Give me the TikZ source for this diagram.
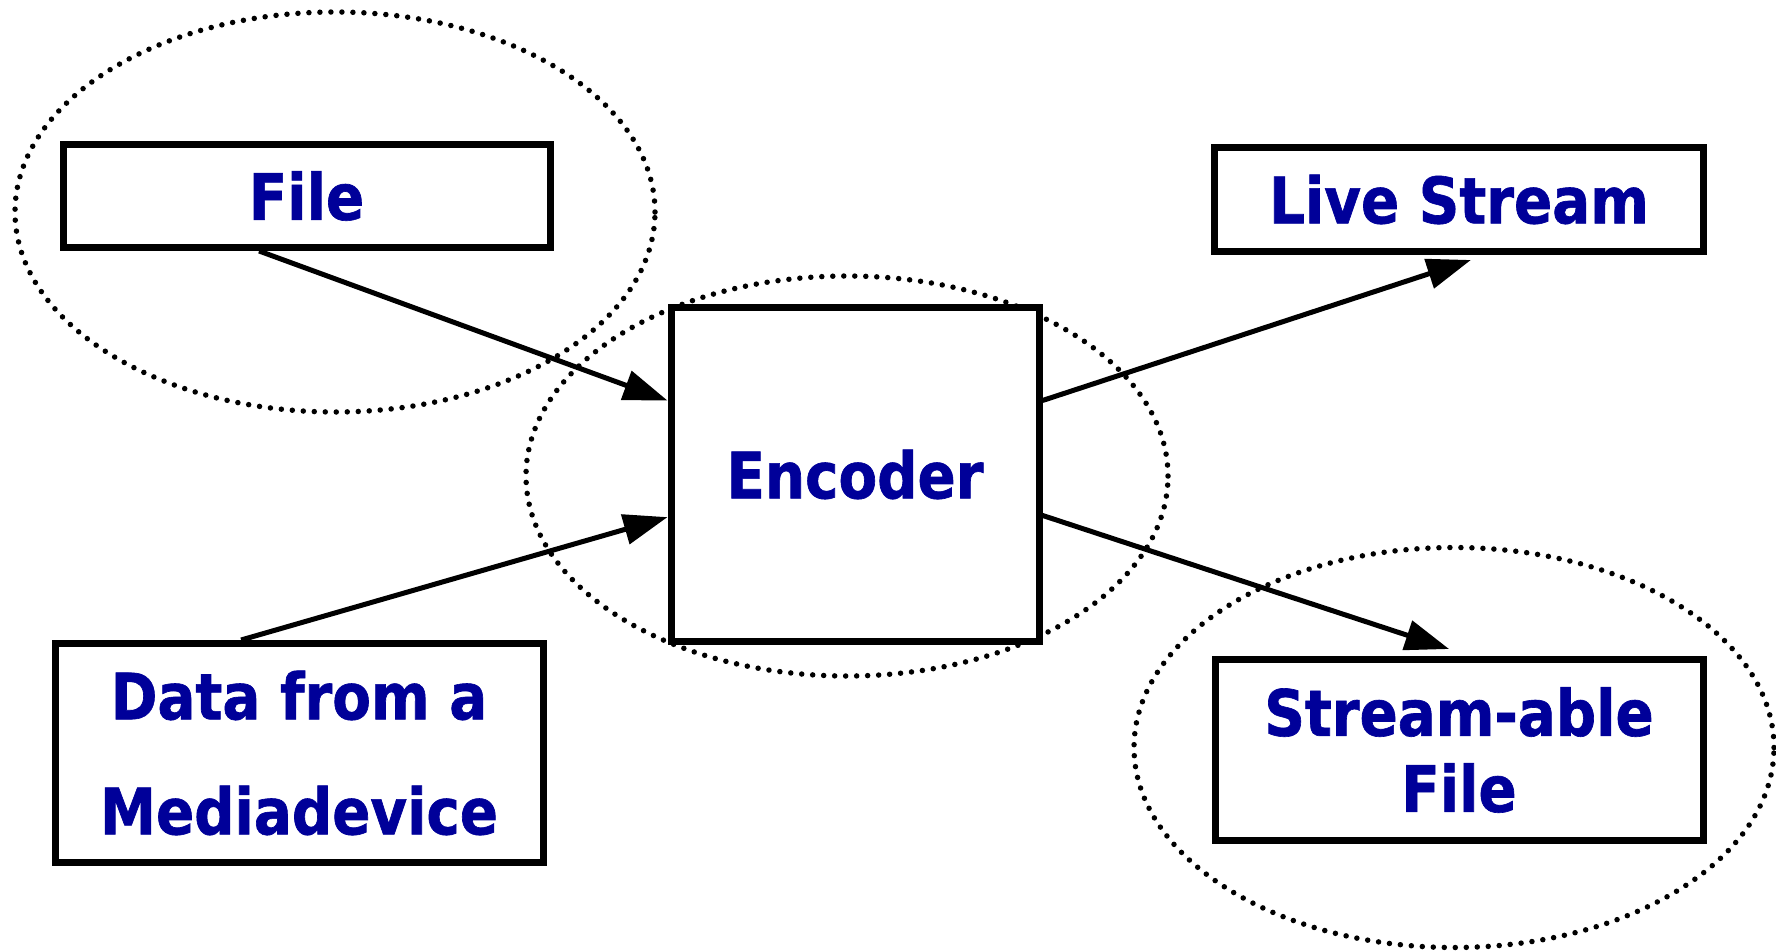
\documentclass[tikz,border=0pt]{standalone}
\usepackage{fontspec}
\newfontfamily\lblfont{DejaVu Sans}[FakeStretch=0.88,FakeBold=1]
\usetikzlibrary{arrows.meta,calc}
\definecolor{lblblue}{RGB}{0,0,153}
\begin{document}
\begin{tikzpicture}[x=1pt,y=-1pt,
  box/.style={draw=black, line width=7pt, fill=white, inner sep=0pt, align=center,
    text=lblblue, font=\lblfont\bfseries\fontsize{64}{76}\selectfont},
  halo/.style={draw=black, line width=5.5pt, line cap=round, dash pattern=on 0pt off 11pt},
  arr/.style={draw=black, line width=5pt, -{Triangle[length=44pt,width=30pt]}}]
\useasboundingbox (0,0) rectangle (1776,950);
% dotted groupings
\draw[halo] (335,212) ellipse [x radius=320pt, y radius=200pt];
\draw[halo] (847,476) ellipse [x radius=321pt, y radius=200pt];
\draw[halo] (1454,747.5) ellipse [x radius=320pt, y radius=200pt];
% boxes
\node[box, minimum width=487pt, minimum height=103pt] (file) at (306.5,196) {File};
\node[box, minimum width=488.5pt, minimum height=104pt] (live) at (1459,199.5) {Live Stream};
\node[box, minimum width=368pt, minimum height=334pt] (enc) at (855,474.5) {Encoder};
\node[box, minimum width=488pt, minimum height=219pt,
  font=\lblfont\bfseries\fontsize{64}{115}\selectfont] (data) at (299,753) {Data from a\\Mediadevice};
\node[box, minimum width=488pt, minimum height=181pt] (sfile) at (1459,750) {Stream-able\\File};
% connectors
\draw[arr] ($(file.south west)!0.404!(file.south east)$) -- ($(enc.north west)!0.283!(enc.south west)$);
\draw[arr] ($(data.north west)!0.383!(data.north east)$) -- ($(enc.north west)!0.625!(enc.south west)$);
\draw[arr] ($(enc.north east)!0.283!(enc.south east)$) -- ([yshift=-5pt]$(live.south west)!0.524!(live.south east)$);
\draw[arr] ($(enc.north east)!0.62!(enc.south east)$) -- ([yshift=7pt]$(sfile.north west)!0.48!(sfile.north east)$);
\end{tikzpicture}
\end{document}
